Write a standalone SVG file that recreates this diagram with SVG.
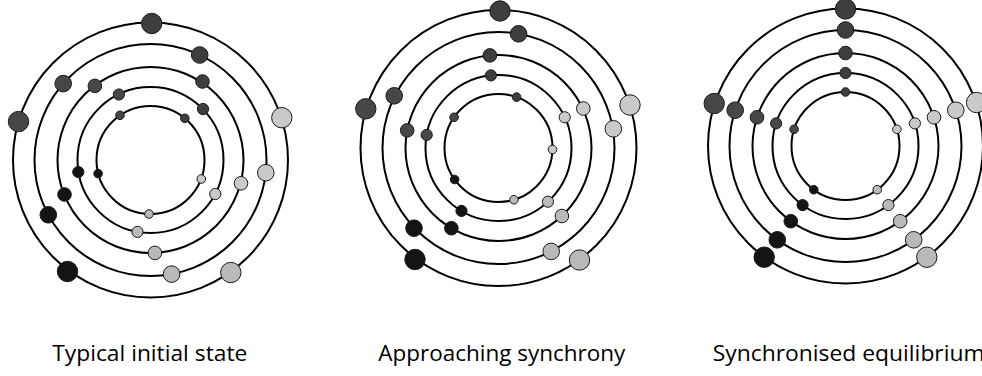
<svg xmlns="http://www.w3.org/2000/svg" width="982" height="376" viewBox="0 0 982 376">
<style>
.ring{fill:none;stroke:#000;stroke-width:2}
.b{stroke:#1a1a1a;stroke-width:1}
.d1{fill:#3e3e3e}
.d2{fill:#474747}
.k{fill:#141414}
.l1{fill:#b9b9b9}
.l2{fill:#c9c9c9}
.lbl{font-family:"Open Sans","Liberation Sans",sans-serif;font-size:22px;fill:#000}
</style>
<rect width="982" height="376" fill="#fff"/>
<g id="initial">
<g id="initial-rings">
<circle class="ring" cx="150.5" cy="160" r="137.5"/>
<circle class="ring" cx="150.5" cy="160" r="116"/>
<circle class="ring" cx="150.5" cy="160" r="93"/>
<circle class="ring" cx="150.5" cy="160" r="73"/>
<circle class="ring" cx="150.5" cy="160" r="54"/>
</g>
<g id="initial-balls">
<circle class="b d1" cx="151.7" cy="23.5" r="10.2"/>
<circle class="b d2" cx="18.5" cy="121.6" r="10.2"/>
<circle class="b k" cx="67.5" cy="271.5" r="10.2"/>
<circle class="b l1" cx="230.8" cy="272.5" r="10.2"/>
<circle class="b l2" cx="281.8" cy="117.7" r="10.2"/>
<circle class="b d1" cx="199.7" cy="55" r="8.3"/>
<circle class="b d2" cx="63.2" cy="83.6" r="8.3"/>
<circle class="b k" cx="48.3" cy="214.8" r="8.3"/>
<circle class="b l1" cx="171.6" cy="274.1" r="8.3"/>
<circle class="b l2" cx="265.8" cy="172.7" r="8.3"/>
<circle class="b d1" cx="202.5" cy="81.5" r="6.8"/>
<circle class="b d2" cx="94.9" cy="85.9" r="6.8"/>
<circle class="b k" cx="64.5" cy="194.5" r="6.8"/>
<circle class="b l1" cx="154.9" cy="252.9" r="6.8"/>
<circle class="b l2" cx="241" cy="183.3" r="6.8"/>
<circle class="b d1" cx="203" cy="109" r="5.6"/>
<circle class="b d2" cx="118.9" cy="94.5" r="5.6"/>
<circle class="b k" cx="78.3" cy="172" r="5.6"/>
<circle class="b l1" cx="137.5" cy="231.9" r="5.6"/>
<circle class="b l2" cx="215.3" cy="194" r="5.6"/>
<circle class="b d1" cx="184.8" cy="118.3" r="4.3"/>
<circle class="b d2" cx="120" cy="115.3" r="4.3"/>
<circle class="b k" cx="98.1" cy="173.6" r="4.3"/>
<circle class="b l1" cx="149" cy="214" r="4.3"/>
<circle class="b l2" cx="201.3" cy="179" r="4.3"/>
</g>
</g>
<g id="approaching">
<g id="approaching-rings">
<circle class="ring" cx="498.5" cy="148" r="138"/>
<circle class="ring" cx="498.5" cy="148" r="116"/>
<circle class="ring" cx="498.5" cy="148" r="93"/>
<circle class="ring" cx="498.5" cy="148" r="73"/>
<circle class="ring" cx="498.5" cy="148" r="54"/>
</g>
<g id="approaching-balls">
<circle class="b d1" cx="500" cy="11" r="10.2"/>
<circle class="b d2" cx="365.8" cy="108.8" r="10.2"/>
<circle class="b k" cx="415" cy="259.5" r="10.2"/>
<circle class="b l1" cx="579.5" cy="260" r="10.2"/>
<circle class="b l2" cx="630" cy="105" r="10.2"/>
<circle class="b d1" cx="518.6" cy="33.8" r="8.3"/>
<circle class="b d2" cx="394.2" cy="95.8" r="8.3"/>
<circle class="b k" cx="414" cy="228.2" r="8.3"/>
<circle class="b l1" cx="551.2" cy="251.4" r="8.3"/>
<circle class="b l2" cx="613.3" cy="128.8" r="8.3"/>
<circle class="b d1" cx="489.9" cy="55.4" r="6.8"/>
<circle class="b d2" cx="407.2" cy="130.4" r="6.8"/>
<circle class="b k" cx="451.4" cy="228.2" r="6.8"/>
<circle class="b l1" cx="561.9" cy="216" r="6.8"/>
<circle class="b l2" cx="583.3" cy="108.5" r="6.8"/>
<circle class="b d1" cx="490.9" cy="75.4" r="5.6"/>
<circle class="b d2" cx="426.7" cy="134.9" r="5.6"/>
<circle class="b k" cx="461.5" cy="210.9" r="5.6"/>
<circle class="b l1" cx="547.9" cy="201.7" r="5.6"/>
<circle class="b l2" cx="564.7" cy="117.3" r="5.6"/>
<circle class="b d1" cx="516.6" cy="97.1" r="4.3"/>
<circle class="b d2" cx="454.1" cy="117.3" r="4.3"/>
<circle class="b k" cx="454.6" cy="179.5" r="4.3"/>
<circle class="b l1" cx="513.9" cy="199.7" r="4.3"/>
<circle class="b l2" cx="552.5" cy="149.5" r="4.3"/>
</g>
</g>
<g id="synchronised">
<g id="synchronised-rings">
<circle class="ring" cx="845.5" cy="146" r="137.5"/>
<circle class="ring" cx="845.5" cy="146" r="116"/>
<circle class="ring" cx="845.5" cy="146" r="93"/>
<circle class="ring" cx="845.5" cy="146" r="73"/>
<circle class="ring" cx="845.5" cy="146" r="54"/>
</g>
<g id="synchronised-balls">
<circle class="b d1" cx="845.5" cy="9" r="10.2"/>
<circle class="b d2" cx="714.2" cy="103.5" r="10.2"/>
<circle class="b k" cx="764.2" cy="257.2" r="10.2"/>
<circle class="b l1" cx="926.8" cy="257.2" r="10.2"/>
<circle class="b l2" cx="976.6" cy="102.5" r="10.2"/>
<circle class="b d1" cx="845.5" cy="30" r="8.3"/>
<circle class="b d2" cx="735.2" cy="110.2" r="8.3"/>
<circle class="b k" cx="777.3" cy="239.8" r="8.3"/>
<circle class="b l1" cx="913.7" cy="239.8" r="8.3"/>
<circle class="b l2" cx="955.8" cy="110.2" r="8.3"/>
<circle class="b d1" cx="845.5" cy="53" r="6.8"/>
<circle class="b d2" cx="757" cy="117.3" r="6.8"/>
<circle class="b k" cx="790.8" cy="221.2" r="6.8"/>
<circle class="b l1" cx="900.2" cy="221.2" r="6.8"/>
<circle class="b l2" cx="934" cy="117.3" r="6.8"/>
<circle class="b d1" cx="845.5" cy="73" r="5.6"/>
<circle class="b d2" cx="776.1" cy="123.4" r="5.6"/>
<circle class="b k" cx="802.6" cy="205.1" r="5.6"/>
<circle class="b l1" cx="888.4" cy="205.1" r="5.6"/>
<circle class="b l2" cx="914.9" cy="123.4" r="5.6"/>
<circle class="b d1" cx="845.5" cy="92" r="4.3"/>
<circle class="b d2" cx="794.1" cy="129.3" r="4.3"/>
<circle class="b k" cx="813.8" cy="189.7" r="4.3"/>
<circle class="b l1" cx="877.2" cy="189.7" r="4.3"/>
<circle class="b l2" cx="896.9" cy="129.3" r="4.3"/>
</g>
</g>
<g id="labels">
<text class="lbl" x="52.3" y="361" textLength="195" lengthAdjust="spacingAndGlyphs">Typical initial state</text>
<text class="lbl" x="378.3" y="361" textLength="247" lengthAdjust="spacingAndGlyphs">Approaching synchrony</text>
<text class="lbl" x="712.7" y="361" textLength="272" lengthAdjust="spacingAndGlyphs">Synchronised equilibrium</text>
</g>
</svg>
